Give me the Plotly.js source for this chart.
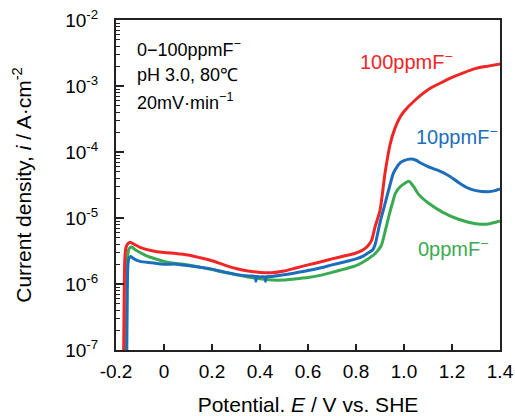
<!DOCTYPE html>
<html>
<head>
<meta charset="utf-8">
<script src="https://cdn.plot.ly/plotly-3.0.1.min.js"></script>
<style>html,body{margin:0;padding:0;background:#fff;}#chart{width:515px;height:416px;}</style>
</head>
<body>
<div id="chart"></div>
<script>
// ---- data ----
const potential_100 = [-0.168, -0.166, -0.163, -0.158, -0.150, -0.140, -0.125, -0.10, -0.05, 0.0, 0.05, 0.10, 0.15, 0.20, 0.25, 0.30, 0.35, 0.40, 0.45, 0.50, 0.55, 0.60, 0.65, 0.70, 0.75, 0.80, 0.83, 0.85, 0.865, 0.88, 0.90, 0.921, 0.942, 0.9625, 0.98, 1.00, 1.05, 1.10, 1.15, 1.20, 1.25, 1.30, 1.35, 1.40];
const current_100 = [1e-7, 6e-7, 2.5e-6, 3.6e-6, 4.1e-6, 4.3e-6, 4.0e-6, 3.6e-6, 3.2e-6, 3.0e-6, 2.9e-6, 2.75e-6, 2.5e-6, 2.25e-6, 1.95e-6, 1.72e-6, 1.57e-6, 1.5e-6, 1.48e-6, 1.57e-6, 1.75e-6, 1.95e-6, 2.15e-6, 2.4e-6, 2.65e-6, 2.95e-6, 3.3e-6, 3.8e-6, 4.6e-6, 7.5e-6, 1.3e-5, 4.8e-5, 1.3e-4, 2.3e-4, 3.2e-4, 4.1e-4, 6.3e-4, 8.8e-4, 1.1e-3, 1.35e-3, 1.6e-3, 1.85e-3, 2.0e-3, 2.15e-3];

const potential_10 = [-0.155, -0.153, -0.150, -0.145, -0.138, -0.125, -0.10, -0.05, 0.0, 0.05, 0.10, 0.15, 0.20, 0.25, 0.30, 0.35, 0.38, 0.383, 0.386, 0.40, 0.42, 0.423, 0.426, 0.45, 0.50, 0.55, 0.60, 0.65, 0.70, 0.75, 0.80, 0.83, 0.85, 0.87, 0.88, 0.90, 0.92, 0.94, 0.955, 0.97, 0.985, 1.00, 1.03, 1.05, 1.07, 1.10, 1.14, 1.19, 1.23, 1.27, 1.30, 1.35, 1.38, 1.40];
const current_10 = [1e-7, 8e-7, 2.0e-6, 2.5e-6, 2.6e-6, 2.4e-6, 2.2e-6, 2.1e-6, 2.0e-6, 2.0e-6, 1.9e-6, 1.8e-6, 1.68e-6, 1.52e-6, 1.4e-6, 1.32e-6, 1.3e-6, 1.1e-6, 1.3e-6, 1.28e-6, 1.28e-6, 1.1e-6, 1.29e-6, 1.3e-6, 1.38e-6, 1.48e-6, 1.6e-6, 1.75e-6, 1.95e-6, 2.15e-6, 2.4e-6, 2.65e-6, 2.95e-6, 3.3e-6, 4.0e-6, 8.5e-6, 1.6e-5, 3.0e-5, 4.7e-5, 5.9e-5, 6.9e-5, 7.4e-5, 7.8e-5, 7.5e-5, 6.8e-5, 6.0e-5, 5.3e-5, 4.3e-5, 3.4e-5, 2.8e-5, 2.6e-5, 2.5e-5, 2.6e-5, 2.75e-5];

const potential_0 = [-0.157, -0.155, -0.152, -0.147, -0.140, -0.133, -0.12, -0.10, -0.075, -0.05, 0.0, 0.05, 0.10, 0.15, 0.20, 0.25, 0.30, 0.35, 0.40, 0.45, 0.50, 0.55, 0.60, 0.65, 0.70, 0.75, 0.80, 0.85, 0.88, 0.905, 0.92, 0.935, 0.95, 0.965, 0.985, 1.005, 1.02, 1.04, 1.06, 1.10, 1.16, 1.23, 1.30, 1.35, 1.40];
const current_0 = [1e-7, 8e-7, 2.5e-6, 3.3e-6, 3.6e-6, 3.6e-6, 3.3e-6, 3.0e-6, 2.7e-6, 2.5e-6, 2.2e-6, 2.05e-6, 1.95e-6, 1.8e-6, 1.65e-6, 1.5e-6, 1.38e-6, 1.28e-6, 1.2e-6, 1.15e-6, 1.15e-6, 1.2e-6, 1.25e-6, 1.35e-6, 1.5e-6, 1.68e-6, 1.9e-6, 2.4e-6, 2.9e-6, 3.8e-6, 6.0e-6, 1.0e-5, 1.6e-5, 2.4e-5, 3.0e-5, 3.4e-5, 3.6e-5, 3.0e-5, 2.3e-5, 1.7e-5, 1.23e-5, 9.5e-6, 8.2e-6, 8.1e-6, 9.0e-6];

const xTickVals = [-0.2, 0, 0.2, 0.4, 0.6, 0.8, 1.0, 1.2, 1.4];
const xTickText = ['-0.2', '0', '0.2', '0.4', '0.6', '0.8', '1.0', '1.2', '1.4'];
const yTickVals = [1e-7, 1e-6, 1e-5, 1e-4, 1e-3, 1e-2];
const yTickText = ['10<sup>-7</sup>', '10<sup>-6</sup>', '10<sup>-5</sup>', '10<sup>-4</sup>', '10<sup>-3</sup>', '10<sup>-2</sup>'];

const RED = 'rgb(240,38,38)', BLUE = 'rgb(28,110,188)', GREEN = 'rgb(58,170,80)';
const FONT = 'Liberation Sans, Arial, sans-serif';

const lineStyle = c => ({color: c, width: 3, shape: 'spline', smoothing: 0.7});
const traces = [
  {x: potential_0, y: current_0, mode: 'lines', line: lineStyle(GREEN), name: '0ppm'},
  {x: potential_10, y: current_10, mode: 'lines', line: lineStyle(BLUE), name: '10ppm'},
  {x: potential_100, y: current_100, mode: 'lines', line: lineStyle(RED), name: '100ppm'}
];

const layout = {
  width: 515, height: 416,
  margin: {l: 116, r: 15, t: 20, b: 66},
  paper_bgcolor: '#fff', plot_bgcolor: '#fff',
  showlegend: false,
  font: {family: FONT, color: '#000'},
  xaxis: {
    range: [-0.2, 1.4], tickmode: 'array', tickvals: xTickVals, ticktext: xTickText,
    ticks: 'inside', ticklen: 6, tickwidth: 1.5, tickcolor: '#222', ticklabelstandoff: 3,
    showline: true, linecolor: '#222', linewidth: 2, mirror: true,
    showgrid: false, zeroline: false,
    tickfont: {size: 19, family: FONT},
    title: {text: 'Potential. <i>E</i> / V vs. SHE', font: {size: 21, family: FONT}, standoff: 18}
  },
  yaxis: {
    type: 'log', range: [-7, -2], tickmode: 'array', tickvals: yTickVals, ticktext: yTickText,
    ticks: 'inside', ticklen: 8, tickwidth: 1.5, tickcolor: '#222', ticklabelstandoff: 12,
    minor: {ticks: 'inside', ticklen: 4, tickwidth: 1, tickcolor: '#222', dtick: 'D1', showgrid: false},
    showline: true, linecolor: '#222', linewidth: 2, mirror: true,
    showgrid: false, zeroline: false,
    tickfont: {size: 19, family: FONT},
    title: {text: 'Current density, <i>i</i> / A·cm<sup>-2</sup>', font: {size: 21, family: FONT}, standoff: 28}
  },
  annotations: [
    {xref: 'paper', yref: 'paper', x: 0.05, y: 0.915, xanchor: 'left', yanchor: 'middle', showarrow: false,
     text: '0−100ppmF<sup>−</sup>', font: {size: 18, family: FONT, color: '#000'}},
    {xref: 'paper', yref: 'paper', x: 0.05, y: 0.833, xanchor: 'left', yanchor: 'middle', showarrow: false,
     text: 'pH 3.0, 80℃', font: {size: 18, family: FONT, color: '#000'}},
    {xref: 'paper', yref: 'paper', x: 0.05, y: 0.752, xanchor: 'left', yanchor: 'middle', showarrow: false,
     text: '20mV·min<sup>−1</sup>', font: {size: 18, family: FONT, color: '#000'}},
    {xref: 'paper', yref: 'paper', x: 0.757, y: 0.876, xanchor: 'center', yanchor: 'middle', showarrow: false,
     text: '100ppmF<sup>−</sup>', font: {size: 20, family: FONT, color: RED}},
    {xref: 'paper', yref: 'paper', x: 0.888, y: 0.65, xanchor: 'center', yanchor: 'middle', showarrow: false,
     text: '10ppmF<sup>−</sup>', font: {size: 20, family: FONT, color: BLUE}},
    {xref: 'paper', yref: 'paper', x: 0.878, y: 0.31, xanchor: 'center', yanchor: 'middle', showarrow: false,
     text: '0ppmF<sup>−</sup>', font: {size: 20, family: FONT, color: GREEN}}
  ]
};

Plotly.newPlot('chart', traces, layout, {staticPlot: true, displayModeBar: false});
</script>
</body>
</html>
